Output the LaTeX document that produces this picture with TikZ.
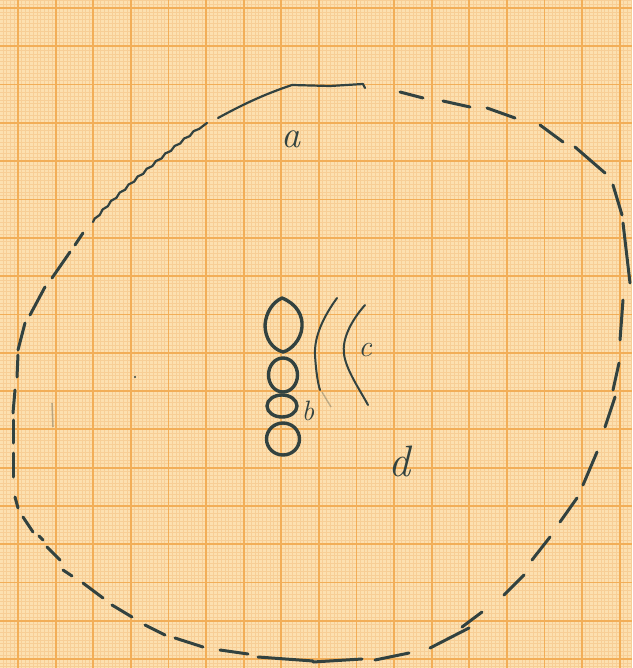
\documentclass[tikz,border=0pt]{standalone}
\usepackage{tikz}
\usetikzlibrary{decorations.pathmorphing}
\definecolor{papercol}{RGB}{252,224,176}
\definecolor{minorcol}{RGB}{247,206,150}
\definecolor{majorcol}{RGB}{242,174,88}
\definecolor{leadcol}{RGB}{50,66,64}
\tikzset{
  pencil/.style={draw=leadcol, line width=1.3pt, line cap=round, line join=round},
  stroke/.style={pencil, line width=1.5pt},
  ring/.style={pencil, line width=1.7pt},
  letter/.style={text=leadcol, inner sep=0pt}
}

\begin{document}
\begin{tikzpicture}[x=0.5pt, y=-0.5pt]
  \useasboundingbox (0,0) rectangle (632,668);
  \fill[papercol] (0,0) rectangle (632,668);

  \foreach \i in {-4,...,163} \draw[minorcol, line width=0.3pt] ({18+3.76*\i},0) -- ++(0,668);
  \foreach \j in {-2,...,172} \draw[minorcol, line width=0.3pt] (0,{8+3.83*\j}) -- ++(632,0);
  \foreach \i in {0,...,16} \draw[majorcol, line width=0.9pt] ({18+37.6*\i},0) -- ++(0,668);
  \foreach \j in {0,...,17} \draw[majorcol, line width=0.9pt] (0,{8+38.3*\j}) -- ++(632,0);

  \draw[pencil, line width=1.1pt, decorate, decoration={snake, amplitude=0.4pt, segment length=6pt}]
    (93,222) .. controls (110,200) and (160,158) .. (207,123);
  \draw[pencil, line width=1.1pt] (218,118) .. controls (240,106) and (262,95) .. (292,85) -- (330,86) -- (363,84) -- (365,88);

  \foreach \xa/\ya/\xb/\yb in {
      400/92/423/98, 443/101/470/107, 487/108/515/118, 540/125/563/142,
      575/147/605/173, 613/185/622/215, 623/223/630/283, 623/300/620/340,
      619/363/613/390, 615/397/605/427, 597/452/583/485, 577/498/560/522,
      550/537/532/560, 524/575/504/595, 482/612/462/627, 469/628/430/648,
      409/653/375/660, 362/659/313/662, 313/661/258/657, 248/654/220/650,
      203/647/175/638, 165/635/145/625, 132/617/112/605, 103/598/83/583,
      72/576/63/570, 60/560/47/547, 43/540/39/536, 33/532/23/517,
      18/508/15/497, 13/477/13/453, 13/443/13/420, 13/413/15/390,
      17/377/18/355, 18/350/25/323, 30/315/45/287, 52/278/70/252,
      75/245/83/233}
    \draw[stroke] (\xa,\ya) -- (\xb,\yb);

  \draw[ring] (282,298) .. controls (297,304) and (303,316) .. (302,327)
    .. controls (301,340) and (291,350) .. (283,352)
    .. controls (272,349) and (265,338) .. (265,325)
    .. controls (266,312) and (273,302) .. (282,298) -- cycle;
  \draw[ring] (283,375) ellipse [x radius=14.5, y radius=17];
  \draw[ring] (282,406) ellipse [x radius=15, y radius=11];
  \draw[ring] (283,439) ellipse [x radius=16.5, y radius=16];

  \draw[pencil, line width=1pt] (337,298) .. controls (324,316) and (314,336) .. (315,355)
    .. controls (316,372) and (318,384) .. (320,390);
  \draw[leadcol, opacity=0.3, line width=0.7pt] (322,392) -- (331,407);
  \draw[pencil, line width=1pt] (365,305) .. controls (350,322) and (342,340) .. (344,354)
    .. controls (346,370) and (360,390) .. (368,405);

  \fill[leadcol] (135,377) circle (1.2);
  \draw[leadcol, opacity=0.3, line width=0.8pt] (52,403) -- (53,427);

  \node[letter, font=\fontsize{19}{19}\selectfont\itshape] (a) at (291,139) {a};
  \node[letter, font=\fontsize{14}{14}\selectfont\itshape] (b) at (308,411) {b};
  \node[letter, font=\fontsize{15}{15}\selectfont\itshape] (c) at (365,350) {c};
  \node[letter, font=\fontsize{22}{22}\selectfont\itshape] (d) at (399,461) {d};
\end{tikzpicture}
\end{document}
